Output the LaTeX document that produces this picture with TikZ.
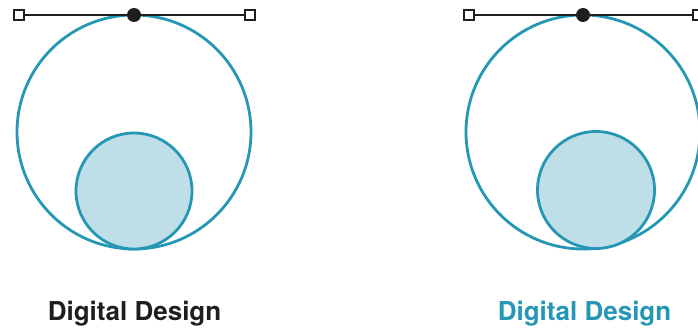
\documentclass[tikz,border=0pt]{standalone}
\usepackage{fontspec}
\setmainfont{TeX Gyre Heros}
\usepackage{tikz}
\usepackage{xcolor}
\usetikzlibrary{positioning}
\definecolor{DD_Teal}{HTML}{2597B4}
\definecolor{DD_Pale}{HTML}{BFDFE8}
\definecolor{DD_Ink}{HTML}{1E1E1E}

\tikzset{
  ring/.style={draw=DD_Teal, line width=2.8pt},
  handle/.style={draw=DD_Ink, line width=2.4pt, fill=white, minimum size=10pt, inner sep=0pt},
  anchorpt/.style={circle, fill=DD_Ink, minimum size=14pt, inner sep=0pt},
  tangent/.style={draw=DD_Ink, line width=2.3pt},
  caption/.style={font=\bfseries\fontsize{26}{30}\selectfont, anchor=base}
}

\begin{document}
\begin{tikzpicture}[x=1pt, y=-1pt]
    \useasboundingbox (0,0) rectangle (698,329);

    % Left: centred inner circle
    \draw[ring] (134,132) circle (117);
    \draw[ring, fill=DD_Pale] (134,191) circle (58);
    \node[handle] (l-west) at (19,15) {};
    \node[handle] (l-east) at (250,15) {};
    \draw[tangent] (l-west) -- (l-east);
    \node[anchorpt] (l-top) at (134,15) {};
    \node[caption, DD_Ink] (l-text) at (134.5,320) {Digital Design};

    % Right: inner circle shifted to the right
    \draw[ring] (583,132) circle (117);
    \draw[ring, fill=DD_Pale] (596,190) circle (58.5);
    \node[handle] (r-west) at (469,15) {};
    \node[handle] (r-east) at (698,15) {};
    \draw[tangent] (r-west) -- (r-east);
    \node[anchorpt] (r-top) at (583,15) {};
    \node[caption, DD_Teal] (r-text) at (584.5,320) {Digital Design};
\end{tikzpicture}
\end{document}
